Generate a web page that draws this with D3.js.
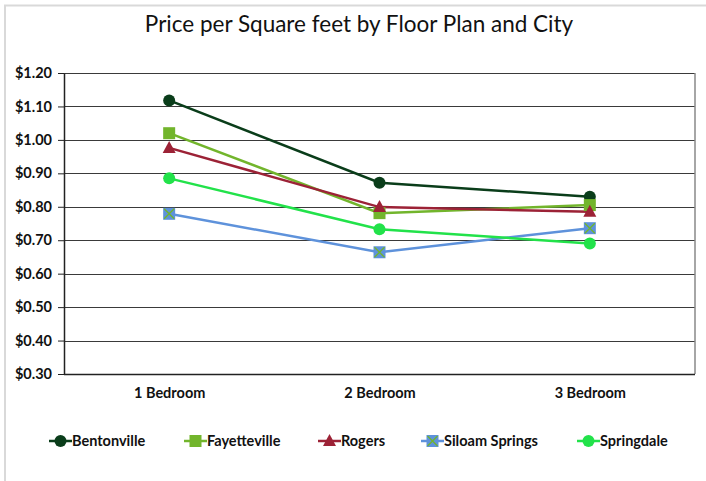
<!DOCTYPE html>
<html>
<head>
<meta charset="utf-8">
<script src="https://cdn.jsdelivr.net/npm/d3@7"></script>
<style>
  body { margin: 0; background: #fff; }
  svg { display: block; }
</style>
</head>
<body>
<div id="chart"></div>
<script>
var width = 706;
var height = 481;

// data
var floorPlans = ["1 Bedroom", "2 Bedroom", "3 Bedroom"];
var cities = ["Bentonville", "Fayetteville", "Rogers", "Siloam Springs", "Springdale"];
var bentonville = [1.118, 0.872, 0.830];
var fayetteville = [1.020, 0.781, 0.805];
var rogers = [0.976, 0.799, 0.785];
var siloamSprings = [0.779, 0.664, 0.736];
var springdale = [0.885, 0.733, 0.690];
var yTicks = [0.3, 0.4, 0.5, 0.6, 0.7, 0.8, 0.9, 1.0, 1.1, 1.2];

var series = [
  { name: cities[0], values: bentonville, color: "#0a3d1a", marker: "circle" },
  { name: cities[1], values: fayetteville, color: "#72b52c", marker: "square" },
  { name: cities[2], values: rogers, color: "#9c2236", marker: "triangle" },
  { name: cities[3], values: siloamSprings, color: "#5e92db", marker: "xsquare" },
  { name: cities[4], values: springdale, color: "#22e24a", marker: "circle" }
];

var margin = { top: 73, right: 11, bottom: 107, left: 64 };
var font = "Lato, 'Open Sans', sans-serif";

var svg = d3.select("#chart")
  .append("svg")
  .attr("width", width)
  .attr("height", height);

// outer chart frame (only left and top show in the picture)
svg.append("path")
  .attr("d", "M5,481 V5.5 H706")
  .attr("fill", "none")
  .attr("stroke", "#d9d9d9")
  .attr("stroke-width", 2);

var x = d3.scalePoint()
  .domain(floorPlans)
  .range([margin.left, width - margin.right])
  .padding(0.5);

var y = d3.scaleLinear()
  .domain([0.3, 1.2])
  .range([height - margin.bottom, margin.top]);

svg.append("text")
  .attr("x", 359)
  .attr("y", 32)
  .attr("text-anchor", "middle")
  .style("font-family", font)
  .style("font-size", "22.5px")
  .style("fill", "#111")
  .text("Price per Square feet by Floor Plan and City");

// gridlines
svg.append("g")
  .selectAll("line")
  .data(yTicks)
  .enter()
  .append("line")
  .attr("x1", margin.left)
  .attr("x2", width - margin.right)
  .attr("y1", d => Math.round(y(d)) + 0.5)
  .attr("y2", d => Math.round(y(d)) + 0.5)
  .attr("stroke", "#3a3a3a")
  .attr("stroke-width", 1.2);

// plot area right edge
svg.append("line")
  .attr("x1", width - margin.right)
  .attr("x2", width - margin.right)
  .attr("y1", margin.top)
  .attr("y2", height - margin.bottom)
  .attr("stroke", "#888")
  .attr("stroke-width", 1.5);

var yAxis = svg.append("g")
  .attr("transform", `translate(${margin.left},0)`)
  .call(d3.axisLeft(y).tickValues(yTicks).tickFormat(d3.format("$.2f")).tickSize(6).tickSizeOuter(0).tickPadding(6));
yAxis.select(".domain").attr("stroke", "#222").attr("stroke-width", 1.5);
yAxis.selectAll(".tick line").attr("stroke", "#222");
yAxis.selectAll("text")
  .style("font-family", font)
  .style("font-weight", "bold")
  .style("font-size", "14.5px")
  .style("fill", "#111");

var xAxis = svg.append("g")
  .attr("transform", `translate(0,${height - margin.bottom})`)
  .call(d3.axisBottom(x).tickSize(0).tickPadding(14));
xAxis.select(".domain")
  .attr("d", `M${margin.left},0.5H${width - margin.right}`)
  .attr("stroke", "#222")
  .attr("stroke-width", 1.5);
xAxis.selectAll("text")
  .style("font-family", font)
  .style("font-weight", "bold")
  .style("font-size", "14.5px")
  .style("fill", "#111");

var line = d3.line()
  .x((d, i) => x(floorPlans[i]))
  .y(d => y(d));

function drawMarker(g, type, color, cx, cy) {
  if (type === "circle") {
    g.append("circle").attr("cx", cx).attr("cy", cy).attr("r", 6).attr("fill", color);
  } else if (type === "square") {
    g.append("rect").attr("x", cx - 6).attr("y", cy - 6).attr("width", 12).attr("height", 12).attr("fill", color);
  } else if (type === "triangle") {
    g.append("path")
      .attr("d", `M${cx},${cy - 7}L${cx + 6.5},${cy + 5}L${cx - 6.5},${cy + 5}Z`)
      .attr("fill", color);
  } else if (type === "xsquare") {
    g.append("rect").attr("x", cx - 6).attr("y", cy - 6).attr("width", 12).attr("height", 12).attr("fill", color);
    g.append("path")
      .attr("d", `M${cx - 5},${cy - 5}L${cx + 5},${cy + 5}M${cx + 5},${cy - 5}L${cx - 5},${cy + 5}`)
      .attr("stroke", "#72b52c")
      .attr("stroke-width", 1.3);
  }
}

var lines = svg.append("g");
series.forEach(s => {
  lines.append("path")
    .datum(s.values)
    .attr("d", line)
    .attr("fill", "none")
    .attr("stroke", s.color)
    .attr("stroke-width", 2.5);
});
series.forEach(s => {
  var g = lines.append("g");
  s.values.forEach((v, i) => drawMarker(g, s.marker, s.color, x(floorPlans[i]), y(v)));
});

// legend
var legendX = [49, 184, 318, 421, 577];
var legend = svg.append("g");
series.forEach((s, i) => {
  var lx = legendX[i];
  var ly = 441;
  var g = legend.append("g");
  g.append("line")
    .attr("x1", lx).attr("x2", lx + 23)
    .attr("y1", ly).attr("y2", ly)
    .attr("stroke", s.color)
    .attr("stroke-width", 2.5);
  drawMarker(g, s.marker, s.color, lx + 11.5, ly);
  g.append("text")
    .attr("x", lx + 23)
    .attr("y", ly + 5)
    .style("font-family", font)
    .style("font-weight", "bold")
    .style("font-size", "14.5px")
    .style("fill", "#111")
    .text(s.name);
});
</script>
</body>
</html>
